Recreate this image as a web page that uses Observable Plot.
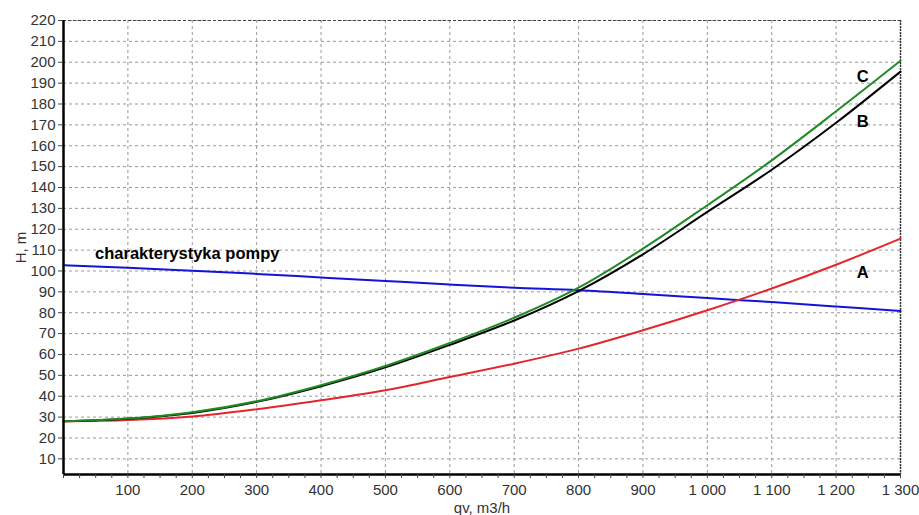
<!DOCTYPE html>
<html>
<head>
<meta charset="utf-8">
<script src="https://cdn.jsdelivr.net/npm/d3@7"></script>
<script src="https://cdn.jsdelivr.net/npm/@observablehq/plot@0.6"></script>
<style>
  html, body { margin: 0; padding: 0; background: #fff; }
  #chart svg { display: block; }
</style>
</head>
<body>
<div id="chart"></div>
<script>
// flow rate qv [m3/h]
const qv = [0, 100, 200, 300, 400, 500, 600, 700, 800, 900, 1000, 1100, 1200, 1300];
// pump characteristic H [m]
const pump = [102.7, 101.5, 100.1, 98.6, 96.9, 95.2, 93.5, 92.0, 90.8, 89.0, 87.0, 85.1, 83.0, 80.8];
// system curves H [m]
const curveA = [28, 28.6, 30.3, 33.8, 38.1, 42.9, 49.2, 55.6, 62.8, 71.6, 81.2, 91.6, 103, 115.5];
const curveB = [28, 29.2, 32.0, 37.3, 44.8, 53.8, 64.6, 76.3, 90.4, 108.0, 128.3, 148.5, 171, 195.5];
const curveC = [28, 29.3, 32.3, 37.6, 45.3, 54.5, 65.5, 77.6, 92.0, 110.7, 131.5, 153.0, 176.5, 200.7];

// ticks
const xTicks = [100, 200, 300, 400, 500, 600, 700, 800, 900, 1000, 1100, 1200, 1300];
const xMinor = d3.range(0, 1301, 25);
const yTicks = [10, 20, 30, 40, 50, 60, 70, 80, 90, 100, 110, 120, 130, 140, 150, 160, 170, 180, 190, 200, 210, 220];

// curve labels (data coordinates)
const labelText = ["C", "B", "A", "charakterystyka pompy"];
const labelQ = [1232, 1232, 1232, 49];
const labelH = [193, 171.5, 99, 108.5];

const series = [
  {name: "pompa", values: pump, color: "#1414d8"},
  {name: "A", values: curveA, color: "#e3262b"},
  {name: "B", values: curveB, color: "#000000"},
  {name: "C", values: curveC, color: "#1f8a24"}
];

const fmt = d3.formatLocale({decimal: ",", thousands: " ", grouping: [3], currency: ["", ""]}).format(",d");

const lineMarks = series.map(s =>
  Plot.line(qv.map((q, i) => ({q, h: s.values[i]})), {
    x: "q", y: "h", stroke: s.color, strokeWidth: 2, curve: "catmull-rom"
  })
);

const labels = labelText.map((t, i) => ({t, q: labelQ[i], h: labelH[i]}));

const chart = Plot.plot({
  width: 919,
  height: 515,
  marginLeft: 63,
  marginRight: 19,
  marginTop: 20,
  marginBottom: 41,
  style: {fontFamily: "'Liberation Sans', Arial, sans-serif", fontSize: "15px", color: "#333", background: "#fff"},
  x: {domain: [0, 1300]},
  y: {domain: [2.5, 220]},
  marks: [
    Plot.gridX(xTicks, {stroke: "#999", strokeOpacity: 1, strokeDasharray: "3,3"}),
    Plot.gridY(yTicks, {stroke: "#999", strokeOpacity: 1, strokeDasharray: "3,3"}),
    Plot.ruleY([220], {stroke: "#444", strokeWidth: 1.2, strokeDasharray: "3,2"}),
    Plot.ruleX([1300], {stroke: "#333", strokeWidth: 1.5, strokeDasharray: "2,1"}),
    ...lineMarks,
    Plot.ruleX([0], {stroke: "#000", strokeWidth: 2.5}),
    Plot.ruleY([2.5], {stroke: "#000", strokeWidth: 2.5}),
    Plot.axisX(xMinor, {tickSize: 4, tickFormat: () => "", label: null, stroke: "#444"}),
    Plot.axisX(xTicks, {tickSize: 0, tickPadding: 10, tickFormat: fmt, fill: "#333", fontSize: 15,
      label: "qv, m3/h", labelAnchor: "center", labelOffset: 38, labelArrow: "none"}),
    Plot.axisY(yTicks, {tickSize: 5, tickPadding: 3, fill: "#333", stroke: "#444", fontSize: 15,
      label: "H, m", labelAnchor: "center", labelOffset: 48, labelArrow: "none"}),
    Plot.text(labels, {x: "q", y: "h", text: "t", textAnchor: "start", fontWeight: "bold",
      fontSize: 16.5, fill: "#000"})
  ]
});

document.getElementById("chart").appendChild(chart);
</script>
</body>
</html>
